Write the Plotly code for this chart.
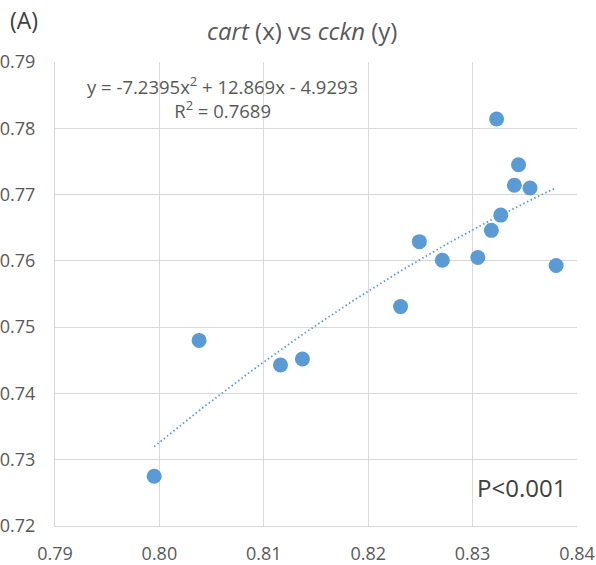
import numpy as np
import plotly.graph_objects as go

# cart expression (x) against cckn expression (y)
cart = [0.7995, 0.8038, 0.8116, 0.8137, 0.8231, 0.8249, 0.8271, 0.8305,
        0.8318, 0.8323, 0.8327, 0.8340, 0.8344, 0.8355, 0.8380]
cckn = [0.7275, 0.7480, 0.7443, 0.7452, 0.7531, 0.7629, 0.7601, 0.7605,
        0.7646, 0.7814, 0.7669, 0.7714, 0.7745, 0.7710, 0.7593]

# polynomial trendline coefficients (order 2): a*x^2 + b*x + c
trend_coef = [-7.2395, 12.869, -4.9293]
r_squared = 0.7689
p_text = "P<0.001"

x_ticks = [0.79, 0.80, 0.81, 0.82, 0.83, 0.84]
y_ticks = [0.72, 0.73, 0.74, 0.75, 0.76, 0.77, 0.78, 0.79]

blue = "#5B9BD5"
grey_text = "#595959"
dark_text = "#404040"
grid = "#D9D9D9"
font_family = "Open Sans, Noto Sans, sans-serif"

tx = np.linspace(min(cart), max(cart), 120)
ty = np.polyval(trend_coef, tx)

fig = go.Figure()
fig.add_trace(go.Scatter(
    x=tx, y=ty, mode="lines",
    line=dict(color=blue, width=1.8, dash="1.5px,2.6px"),
    hoverinfo="skip", showlegend=False,
))
fig.add_trace(go.Scatter(
    x=cart, y=cckn, mode="markers",
    marker=dict(color=blue, size=15, line=dict(width=0)),
    showlegend=False,
))

axis_common = dict(
    showgrid=True, gridcolor=grid, gridwidth=1,
    showline=True, linecolor=grid, linewidth=1,
    zeroline=False, ticks="", automargin=False,
    tickfont=dict(family=font_family, size=18, color=grey_text),
)
fig.update_xaxes(range=[0.79, 0.84], tickvals=x_ticks,
                 ticktext=[f"{v:.2f}" for v in x_ticks],
                 ticklabelstandoff=11, **axis_common)
fig.update_yaxes(range=[0.72, 0.79], tickvals=y_ticks,
                 ticktext=[f"{v:.2f}" for v in y_ticks],
                 ticklabelstandoff=15, **axis_common)

a, b, c = trend_coef
eq = (f"y = {a:.4f}x<sup>2</sup> + {b:.3f}x - {abs(c):.4f}<br>"
      f"R<sup>2</sup> = {r_squared:.4f}")

fig.update_layout(
    width=596, height=565,
    margin=dict(l=55, r=19, t=62, b=39),
    paper_bgcolor="white", plot_bgcolor="white",
    font=dict(family=font_family, color=grey_text),
    annotations=[
        dict(text="<i>cart</i> (x) vs <i>cckn</i> (y)", xref="paper", yref="paper",
             x=0.473, y=1, xanchor="center", yanchor="middle", yshift=32,
             showarrow=False,
             font=dict(size=24, color=grey_text, family=font_family)),
        dict(text="(A)", xref="paper", yref="paper", x=-0.0594, y=1,
             xanchor="center", yanchor="middle", yshift=42, showarrow=False,
             font=dict(size=23, color=dark_text, family=font_family)),
        dict(text=eq, xref="paper", yref="paper", x=0.3218, y=0.9226,
             xanchor="center", yanchor="middle", showarrow=False, align="center",
             font=dict(size=18.5, color=grey_text, family=font_family)),
        dict(text=p_text, xref="paper", yref="paper", x=0.9828, y=0.0819,
             xanchor="right", yanchor="middle", showarrow=False,
             font=dict(size=24, color=dark_text, family=font_family)),
    ],
)

fig.write_html("out.html")
